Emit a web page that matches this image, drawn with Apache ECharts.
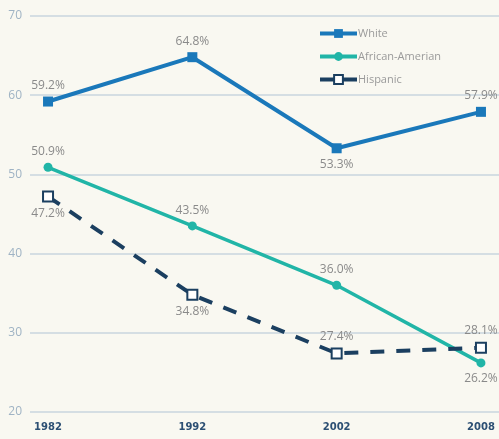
<!DOCTYPE html>
<html>
<head>
<meta charset="utf-8">
<script src="https://cdn.jsdelivr.net/npm/echarts@6/dist/echarts.min.js"></script>
<style>
  html, body { margin: 0; padding: 0; background: #f9f8f1; }
  #main { width: 499px; height: 439px; }
</style>
</head>
<body>
<div id="main"></div>
<script>
// 年份（横轴等距）
var years = ['1982', '1992', '2002', '2008'];
var white = [59.2, 64.8, 53.3, 57.9];
var african = [50.9, 43.5, 36.0, 26.2];
var hispanic = [47.2, 34.8, 27.4, 28.1];

// 标签位置
var whitePos = ['top', 'top', 'bottom', 'top'];
var africanPos = ['top', 'top', 'top', 'bottom'];
var hispanicPos = ['bottom', 'bottom', 'top', 'top'];

function pts(vals, pos) {
    return vals.map(function (v, i) {
        return { value: [i, v], label: { position: pos[i] } };
    });
}

var labelStyle = {
    show: true,
    formatter: function (p) { return p.value[1].toFixed(1) + '%'; },
    color: '#8a8a8a',
    fontSize: 12,
    fontFamily: 'Open Sans',
    distance: 5
};

var myChart = echarts.init(document.getElementById('main'));
myChart.setOption({
    backgroundColor: '#f9f8f1',
    animation: false,
    grid: { left: 30, right: 0, top: 16, bottom: 27 },
    legend: {
        orient: 'vertical',
        left: 313,
        top: 23,
        itemWidth: 37,
        itemHeight: 11,
        itemGap: 12,
        lineStyle: { width: 4, type: 'solid' },
        textStyle: { color: '#9a9a9a', fontSize: 11, fontFamily: 'Open Sans', padding: [0, 0, 0, -4] },
        data: ['White', 'African-Amerian', 'Hispanic']
    },
    xAxis: {
        type: 'value',
        min: -0.125,
        max: 3.125,
        axisLine: { show: false },
        axisTick: { show: false },
        splitLine: { show: false },
        axisLabel: {
            customValues: [0, 1, 2, 3],
            formatter: function (v) { return years[v]; },
            color: '#2c4f73',
            fontWeight: 'bold',
            fontSize: 10,
            fontFamily: 'DejaVu Sans',
            margin: 10
        }
    },
    yAxis: {
        type: 'value',
        min: 20,
        max: 70,
        interval: 10,
        axisLine: { show: false },
        axisTick: { show: false },
        axisLabel: { color: '#9fb3c4', fontSize: 12, fontFamily: 'Open Sans', margin: 8 },
        splitLine: { lineStyle: { color: '#c9d6de', width: 1.5 } }
    },
    series: [
        {
            name: 'White',
            type: 'line',
            data: pts(white, whitePos),
            symbol: 'rect',
            symbolSize: 10,
            itemStyle: { color: '#1a78ba' },
            lineStyle: { width: 4, color: '#1a78ba' },
            label: labelStyle
        },
        {
            name: 'African-Amerian',
            type: 'line',
            data: pts(african, africanPos),
            symbol: 'circle',
            symbolSize: 9,
            itemStyle: { color: '#21b5a7' },
            lineStyle: { width: 3.5, color: '#21b5a7' },
            label: labelStyle
        },
        {
            name: 'Hispanic',
            type: 'line',
            data: pts(hispanic, hispanicPos),
            symbol: 'rect',
            symbolSize: 10,
            itemStyle: { color: '#ffffff', borderColor: '#1b3f60', borderWidth: 2 },
            lineStyle: { width: 4, color: '#1b3f60', type: [14, 12] },
            label: labelStyle
        }
    ]
});
</script>
</body>
</html>
